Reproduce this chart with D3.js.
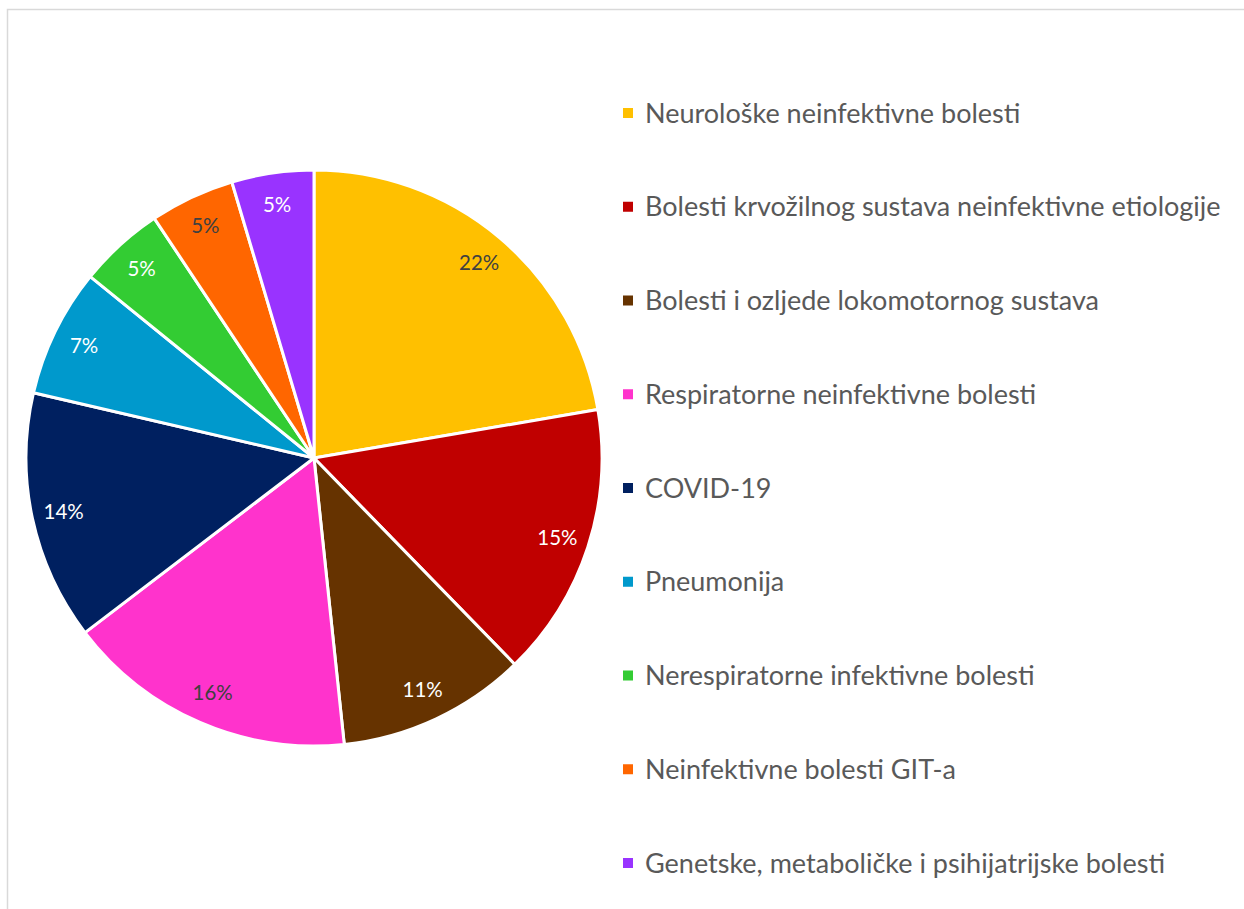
<!DOCTYPE html>
<html><head><meta charset="utf-8">
<script src="https://cdn.jsdelivr.net/npm/d3@7"></script>
<style>body{margin:0;background:#fff}svg{display:block}</style>
</head><body>
<script>
const categories = ["Neurološke neinfektivne bolesti","Bolesti krvožilnog sustava neinfektivne etiologije","Bolesti i ozljede lokomotornog sustava","Respiratorne neinfektivne bolesti","COVID-19","Pneumonija","Nerespiratorne infektivne bolesti","Neinfektivne bolesti GIT-a","Genetske, metaboličke i psihijatrijske bolesti"];
const values = [22.3, 15.4, 10.6, 16.3, 14.0, 7.2, 4.8, 4.75, 4.6];
const colors = ["#FFC000","#C00000","#663300","#FF33CC","#002060","#0099CC","#33CC33","#FF6600","#9933FF"];
const labelColors = ["#404040","#ffffff","#ffffff","#404040","#ffffff","#ffffff","#ffffff","#404040","#ffffff"];

const W = 1244, H = 909;
const svg = d3.select("body").append("svg").attr("width", W).attr("height", H);
svg.append("path").attr("d", `M7.5,${H} L7.5,9.5 L${W},9.5`).attr("fill","none").attr("stroke","#d9d9d9").attr("stroke-width",1.5);

const cx = 314, cy = 458, R = 288;
const total = d3.sum(values);
const pie = d3.pie().sort(null).value(d => d)(values);
const arc = d3.arc().innerRadius(0).outerRadius(R);
const labelArc = d3.arc().innerRadius(256).outerRadius(256);
const g = svg.append("g").attr("transform", `translate(${cx},${cy})`);
g.selectAll("path.slice").data(pie).join("path").attr("class","slice")
  .attr("d", arc).attr("fill", (d,i) => colors[i]).attr("stroke","#fff").attr("stroke-width",3).attr("stroke-linejoin","round");
const fmt = d3.format(".0%");
g.selectAll("text.lbl").data(pie).join("text").attr("class","lbl")
  .attr("transform", d => { const c = labelArc.centroid(d); return `translate(${c[0]},${c[1]})`; })
  .attr("text-anchor","middle").attr("dy","0.35em")
  .attr("font-family","Lato, 'Open Sans', sans-serif").attr("font-size",20.5)
  .attr("fill",(d,i) => labelColors[i])
  .text(d => fmt(d.value/total));

const lg = svg.append("g");
const y0 = 113, step = 93.75;
const rows = lg.selectAll("g").data(categories).join("g").attr("transform",(d,i)=>`translate(623,${y0+i*step})`);
rows.append("rect").attr("x",0).attr("y",-5).attr("width",10).attr("height",10).attr("fill",(d,i)=>colors[i]);
rows.append("text").attr("x",22).attr("dy","0.36em")
  .attr("font-family","Lato, 'Open Sans', sans-serif").attr("font-size",27).attr("fill","#595959")
  .text(d=>d);
</script>
</body></html>
